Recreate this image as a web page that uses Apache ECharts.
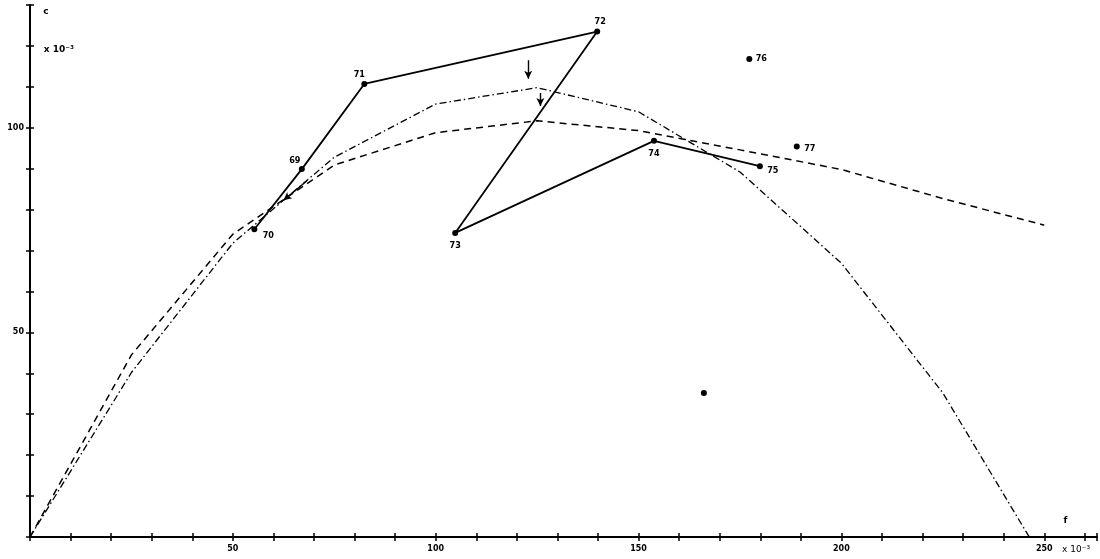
<!DOCTYPE html>
<html><head><meta charset="utf-8">
<script src="https://cdn.jsdelivr.net/npm/echarts@6/dist/echarts.min.js"></script>
<style>html,body{margin:0;padding:0;background:#fff}#c{width:1100px;height:559px}</style>
</head><body><div id="c"></div>
<script>
// ---- data (x and y in units of 10^-3) ----
const xTickLabels = [50, 100, 150, 200, 250];
const yTickLabels = [50, 100];

const dashedX = [0, 25, 50, 75, 100, 125, 150, 175, 200, 225, 250];
const dashedY = [0, 44.5, 74.0, 90.9, 98.8, 101.7, 99.3, 94.6, 89.8, 82.7, 76.2];

const dashDotX = [0, 25, 50, 75, 100, 125, 150, 175, 200, 225, 246.3];
const dashDotY = [0, 40.2, 71.8, 92.8, 105.8, 109.8, 103.9, 89.2, 66.9, 35.2, 0];

const pathLabels = ['70', '69', '71', '72', '73', '74', '75'];
const pathX = [55.3, 67.0, 82.4, 139.8, 104.8, 153.8, 179.9];
const pathY = [75.2, 89.9, 110.7, 123.5, 74.3, 96.8, 90.6];

const isoLabels = ['76', '77', ''];
const isoX = [177.3, 189.0, 166.1];
const isoY = [116.8, 95.4, 35.2];

const arrowFromX = [122.8, 125.8, 68.2];
const arrowFromY = [116.5, 108.5, 87.0];
const arrowToX   = [122.8, 125.8, 62.5];
const arrowToY   = [112.0, 105.3, 82.3];

const annoText = ['c', 'x 10⁻³', 'f', 'x 10⁻³'];
const annoX = [3.9, 3.4, 255.2, 254.4];
const annoY = [128.3, 119.0, 3.9, -3.0];

// ---- style helpers (positions of labels relative to points, in px) ----
const labelOffsets = {
  '70': [14, 6], '69': [-7, -8], '71': [-5, -9], '72': [3, -10],
  '73': [0, 13], '74': [0, 13], '75': [13, 4], '76': [12, 0], '77': [13, 2]
};
const zip = (xs, ys) => xs.map((x, i) => [x, ys[i]]);
const ptLabelStyle = { fontFamily: 'DejaVu Sans Condensed', fontWeight: 'bold', fontSize: 9, color: '#000' };

function ptData(labels, xs, ys) {
  return xs.map((x, i) => {
    const name = labels[i];
    return {
      value: [x, ys[i]], name: name,
      label: name ? Object.assign({ show: true, position: 'inside', offset: labelOffsets[name], formatter: name }, ptLabelStyle) : { show: false }
    };
  });
}

const chart = echarts.init(document.getElementById('c'));
const tickFont = { fontFamily: 'DejaVu Sans', fontWeight: 'bold', fontSize: 8, color: '#000' };

const baseX = { type: 'value', min: 0, max: 263, interval: 10, splitLine: { show: false } };
const baseY = { type: 'value', min: 0, max: 130, interval: 10, splitLine: { show: false } };

chart.setOption({
  animation: false,
  backgroundColor: '#fff',
  grid: { left: 30, right: 0, top: 5, bottom: 22, containLabel: false },
  xAxis: [
    Object.assign({}, baseX, {
      axisLine: { show: true, lineStyle: { color: '#000', width: 2 } },
      axisTick: { show: true, length: 4, lineStyle: { color: '#000', width: 1.5 } },
      axisLabel: Object.assign({ margin: 8, formatter: v => xTickLabels.includes(v) ? String(v) : '' }, tickFont)
    }),
    Object.assign({}, baseX, {
      position: 'bottom',
      axisLine: { show: false },
      axisTick: { show: true, inside: true, length: 4, lineStyle: { color: '#000', width: 1.5 } },
      axisLabel: { show: false }
    })
  ],
  yAxis: [
    Object.assign({}, baseY, {
      axisLine: { show: true, lineStyle: { color: '#000', width: 2 } },
      axisTick: { show: true, length: 4, lineStyle: { color: '#000', width: 1.5 } },
      axisLabel: Object.assign({ margin: 6, formatter: v => yTickLabels.includes(v) ? String(v) : '' }, tickFont)
    }),
    Object.assign({}, baseY, {
      position: 'left',
      axisLine: { show: false },
      axisTick: { show: true, inside: true, length: 4, lineStyle: { color: '#000', width: 1.5 } },
      axisLabel: { show: false }
    })
  ],
  series: [
    {
      type: 'line', name: 'dashed', data: zip(dashedX, dashedY), showSymbol: false, symbol: 'none',
      lineStyle: { color: '#000', width: 1.5, type: [7, 5] }, silent: true
    },
    {
      type: 'line', name: 'dashdot', data: zip(dashDotX, dashDotY), showSymbol: false, symbol: 'none',
      lineStyle: { color: '#000', width: 1.3, type: [7, 3, 1.5, 3] }, silent: true
    },
    {
      type: 'line', name: 'path', data: ptData(pathLabels, pathX, pathY),
      symbol: 'circle', symbolSize: 6, showSymbol: true,
      itemStyle: { color: '#000', opacity: 1 }, lineStyle: { color: '#000', width: 1.8 },
      markLine: {
        silent: true, symbol: ['none', 'arrow'], symbolSize: [6, 8],
        label: { show: false },
        lineStyle: { color: '#000', width: 1.4, type: 'solid' },
        data: arrowFromX.map((x, i) => [{ coord: [x, arrowFromY[i]] }, { coord: [arrowToX[i], arrowToY[i]] }])
      }
    },
    {
      type: 'scatter', name: 'iso', data: ptData(isoLabels, isoX, isoY),
      symbol: 'circle', symbolSize: 6, itemStyle: { color: '#000', opacity: 1 }
    }
  ]
});

const annoStyle = [
  { font: 'bold 9px "DejaVu Sans"', align: 'center' },
  { font: 'bold 9px "DejaVu Sans"', align: 'left' },
  { font: 'bold 9px "DejaVu Sans"', align: 'center' },
  { font: '9px "DejaVu Sans"', align: 'left' }
];
chart.setOption({
  graphic: annoText.map((t, i) => {
    const p = chart.convertToPixel({ gridIndex: 0 }, [annoX[i], annoY[i]]);
    return { type: 'text', x: p[0], y: p[1], style: { text: t, fill: '#000', font: annoStyle[i].font, textAlign: annoStyle[i].align, textVerticalAlign: 'middle' } };
  })
});
</script></body></html>
